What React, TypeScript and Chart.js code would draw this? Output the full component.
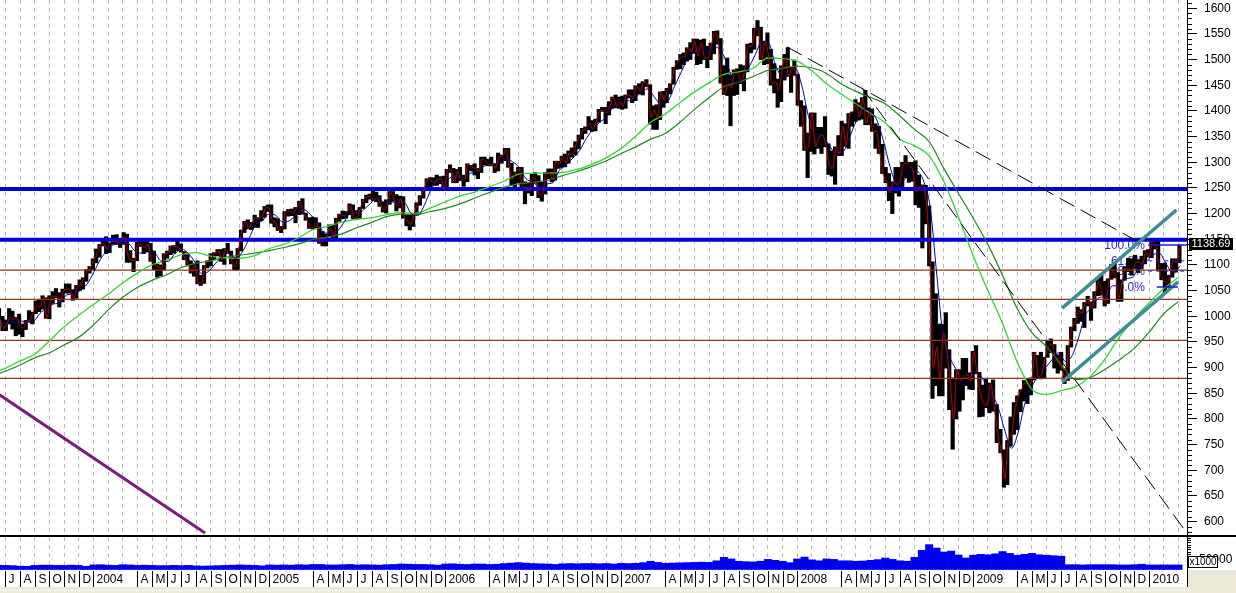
import React, { useEffect, useRef } from "react";
import { Chart, registerables } from "chart.js";

Chart.register(...registerables);

const FONT = '"Liberation Sans", Arial, Helvetica, sans-serif';

// ---------------- axis domain ----------------
const axisStartDate = "2003-06-20";
const axisEndDate = "2010-03-19";
const priceMin = 574;
const priceMax = 1616;
const priceTickStep = 50;
const volumeMax = 143000;
const volumeLabelValue = 50000;
const volumeMinorTicks = [60000, 70000, 80000, 90000, 100000, 110000, 120000, 130000, 140000];
const monthLetters = ["J", "F", "M", "A", "M", "J", "J", "A", "S", "O", "N", "D"];

// ---------------- weekly price data (week ending Friday) ----------------
const firstWeekEnding = "2003-06-20";
const weeklyHigh = [
  1015,1000,993,1015,1010,998,1004,985,992,1011,1008,1030,1033,1040,1036,1040,1048,1054,1046,1053,1063,1063,1052,1060,1071,1075,1091,1097,
  1112,1131,1140,1150,1155,1143,1158,1159,1150,1163,1160,1128,1113,1144,1150,1147,1146,1142,1127,1102,1100,1122,1127,1137,1138,1146,1141,1126,1120,1108,1103,1108,1080,1099,1108,1122,1124,1130,1130,1132,1142,1127,1115,1132,1168,1185,1188,1183,1197,1192,1206,1214,1217,
  1217,1192,1190,1175,1204,1208,1209,1212,1224,1229,1201,1192,1193,1192,1182,1165,1160,1178,1178,1191,1199,1205,1204,1219,1217,1206,1212,1228,1236,1238,1245,1242,1235,1222,1227,1243,1243,1237,1234,1233,1198,1197,1199,1221,1235,1249,1268,1270,1270,1275,1272,1273,
  1286,1295,1288,1286,1290,1275,1297,1294,1297,1288,1310,1310,1306,1310,1297,1318,1314,1327,1327,1298,1281,1290,1290,1262,1260,1277,1280,1274,1262,1280,1287,1287,1302,1302,1312,1316,1322,1328,1340,1353,1366,1369,1389,1381,1384,1403,1407,1407,1418,1427,1431,1427,
  1429,1431,1441,1441,1449,1453,1457,1461,1451,1410,1412,1437,1438,1444,1453,1485,1498,1510,1513,1523,1533,1540,1540,1538,1540,1526,1532,1555,1556,1541,1488,1503,1470,1480,1482,1490,1488,1530,1532,1561,1576,1563,1536,1552,1520,1492,1462,1488,1510,1523,1485,1499,
  1471,1420,1410,1357,1396,1396,1368,1368,1389,1336,1322,1330,1352,1380,1375,1395,1398,1422,1416,1426,1440,1406,1404,1375,1370,1335,1290,1278,1262,1290,1290,1300,1313,1300,1300,1303,1275,1256,1255,1215,1106,1044,985,984,1007,935,880,896,896,918,918,890,
  932,943,891,866,877,870,876,828,780,740,758,804,832,845,857,875,878,880,930,924,930,920,951,956,945,925,930,898,943,979,996,1018,1013,1027,1039,1028,1048,1074,1080,1068,1073,1101,1102,1085,1071,1097,1113,1112,1119,1110,1117,1128,
  1130,1145,1150,1150,1103,1104,1080,1112,1112,1139
];
const weeklyLow = [
  993,972,972,985,975,962,965,960,974,990,985,1005,1009,1014,996,995,1025,1036,1018,1028,1045,1045,1031,1035,1050,1053,1068,1084,
  1090,1104,1115,1137,1122,1124,1140,1140,1134,1140,1105,1105,1087,1108,1136,1122,1125,1107,1091,1076,1079,1090,1113,1120,1123,1128,1125,1110,1100,1084,1078,1063,1060,1064,1094,1098,1110,1118,1107,1101,1122,1102,1090,1090,1127,1163,1170,1169,1173,1173,1186,1193,1204,
  1181,1174,1167,1163,1170,1195,1196,1182,1198,1199,1187,1171,1170,1172,1142,1137,1137,1155,1147,1153,1185,1190,1191,1198,1190,1188,1190,1210,1221,1228,1225,1223,1214,1203,1201,1218,1224,1205,1211,1191,1176,1168,1175,1200,1216,1230,1246,1246,1255,1255,1258,1248,
  1245,1280,1260,1260,1264,1253,1262,1283,1275,1268,1280,1295,1293,1293,1280,1283,1298,1303,1290,1256,1245,1260,1245,1219,1240,1235,1259,1231,1224,1238,1268,1262,1265,1288,1290,1291,1298,1310,1314,1326,1345,1356,1363,1360,1361,1378,1399,1375,1392,1405,1406,1405,
  1403,1405,1425,1416,1420,1433,1431,1447,1374,1364,1364,1383,1407,1416,1433,1452,1481,1482,1490,1497,1500,1512,1490,1492,1500,1484,1500,1511,1530,1454,1432,1430,1371,1430,1432,1453,1439,1476,1513,1520,1546,1500,1490,1492,1450,1435,1407,1418,1460,1467,1436,1469,
  1411,1370,1323,1270,1321,1316,1327,1317,1330,1276,1273,1257,1313,1313,1331,1327,1370,1379,1382,1384,1373,1373,1360,1327,1317,1278,1260,1225,1200,1240,1234,1248,1270,1261,1263,1217,1212,1133,1180,1098,840,865,845,845,899,818,741,800,815,837,865,858,
  857,888,804,805,822,812,815,754,734,667,672,747,770,779,814,835,830,847,876,879,878,880,920,929,899,889,895,869,875,940,972,986,990,978,1020,992,1016,1040,1041,1020,1025,1072,1075,1029,1029,1070,1087,1080,1093,1085,1093,1102,
  1115,1114,1131,1090,1071,1044,1056,1076,1086,1104
];
const weeklyClose = [
  995,976,985,998,993,998,980,977,990,993,1008,1021,1018,1036,997,1029,1039,1039,1028,1050,1053,1050,1035,1058,1061,1074,1089,1095,
  1109,1121,1140,1141,1131,1143,1146,1144,1145,1156,1120,1109,1108,1141,1139,1134,1141,1107,1099,1096,1094,1121,1123,1137,1136,1134,1126,1112,1101,1086,1101,1064,1065,1099,1107,1114,1123,1128,1110,1131,1122,1108,1096,1130,1166,1185,1171,1183,1191,1189,1195,1210,1212,
  1186,1184,1168,1171,1204,1205,1201,1211,1222,1200,1190,1172,1173,1182,1143,1152,1157,1172,1154,1190,1198,1196,1201,1216,1191,1194,1212,1228,1233,1234,1226,1230,1219,1205,1218,1241,1228,1215,1229,1195,1186,1179,1199,1220,1234,1248,1268,1265,1259,1267,1268,1248,
  1285,1287,1261,1283,1265,1267,1297,1290,1288,1282,1307,1302,1295,1296,1289,1311,1311,1325,1291,1267,1280,1288,1253,1251,1245,1270,1265,1236,1240,1278,1280,1266,1302,1296,1311,1299,1319,1314,1336,1349,1362,1368,1377,1364,1380,1401,1400,1396,1409,1427,1410,1418,
  1409,1431,1431,1423,1449,1438,1456,1451,1387,1402,1386,1437,1421,1444,1453,1485,1495,1505,1505,1523,1515,1537,1507,1533,1503,1503,1530,1553,1534,1458,1433,1453,1445,1479,1474,1454,1484,1525,1527,1557,1561,1501,1535,1509,1453,1458,1440,1481,1504,1467,1484,1478,
  1411,1401,1325,1331,1395,1331,1349,1353,1331,1294,1288,1330,1316,1370,1333,1390,1398,1413,1388,1425,1375,1400,1361,1360,1318,1278,1262,1240,1261,1257,1261,1296,1298,1292,1283,1242,1252,1255,1213,1099,899,940,877,968,930,873,800,896,876,879,887,872,
  931,890,850,832,826,869,827,770,735,683,757,769,816,843,857,870,866,878,929,883,887,919,940,946,921,918,896,879,941,979,987,1011,1005,1026,1028,1016,1043,1068,1044,1025,1072,1087,1080,1036,1069,1093,1091,1091,1105,1106,1102,1126,
  1115,1145,1136,1092,1074,1066,1075,1109,1104,1139
];

// slower (blue) moving average, read every second week starting at week #0
const slowMAFirstWeek = 0;
const slowMA = [
  984,987,
  989,991,988,990,1006,1016,1024,1026,1042,1043,
  1051,1063,1086,1111,1128,1140,1142,1142,1128,1123,
  1133,1124,1107,1107,1122,1131,1122,1105,1083,1087,
  1102,1116,1123,1113,1124,1150,1179,1186,1199,1197,
  1184,1186,1198,1208,1199,1183,1164,1161,1165,1182,
  1200,1200,1208,1220,1230,1223,1223,1221,1222,1201,
  1196,1216,1247,1261,1261,1271,1273,1273,1280,1285,
  1294,1296,1299,1306,1301,1290,1268,1261,1253,1258,
  1260,1284,1295,1308,1323,1346,1364,1378,1388,1407,
  1412,1419,1422,1434,1443,1427,1413,1418,1448,1476,
  1503,1517,1523,1517,1524,1516,1486,1454,1461,1483,
  1509,1534,1533,1491,1468,1470,1483,1448,1389,1357,
  1352,1332,1319,1320,1348,1381,1403,1400,1384,1343,
  1292,1260,1263,1281,1282,1265,1212,1081,957,918,
  893,865,882,892,875,853,825,777,743,774,
  831,863,885,899,915,929,912,923,959,1002,
  1017,1036,1039,1059,1060,1073,1076,1097,1106,1119,
  1123,1103,1083,1099
];

// long moving averages, read at each month start from Jun 2003 to Mar 2010
const longMAFirstMonth = "2003-06-01";
const lightGreenMA = [
  888,
  899,913,926,952,979,1002,1023,1043,1065,1084,
  1100,1109,1120,1124,1117,1114,1113,1118,1132,1140,
  1153,1169,1175,1184,1189,1192,1198,1202,1201,1211,
  1223,1234,1242,1252,1263,1277,1279,1279,1280,1286,
  1296,1309,1327,1351,1378,1394,1416,1437,1455,1471,
  1476,1483,1503,1502,1497,1478,1453,1433,1414,1395,
  1377,1345,1332,1312,1262,1193,1118,1050,986,911,
  858,848,855,863,883,917,961,996,1026,1054,
  1076
];
const darkGreenMA = [
  884,
  893,905,919,929,944,959,983,1012,1037,1056,
  1070,1081,1095,1103,1108,1115,1119,1123,1128,1134,
  1141,1150,1154,1161,1173,1183,1194,1199,1198,1204,
  1210,1219,1230,1241,1251,1258,1261,1265,1274,1282,
  1292,1303,1317,1330,1345,1356,1378,1403,1426,1447,
  1456,1467,1479,1483,1487,1484,1473,1453,1438,1426,
  1414,1390,1364,1340,1288,1239,1191,1140,1080,1015,
  968,941,905,877,881,897,916,938,969,1005,
  1029
];

// volume (x1000), read per half month starting mid June 2003
const volumeFirstDate = "2003-06-16";
const volumeHalfMonth = [
  21000,
  20000,19000,17000,16000,20000,21000,21000,20000,20000,21000,20000,16000,
  22000,23000,21000,20000,23000,22000,20000,21000,20000,19000,19000,20000,19000,20000,18000,17000,18000,19000,20000,21000,22000,21000,20000,18000,
  22000,21000,22000,21000,23000,22000,24000,24000,22000,22000,23000,24000,22000,23000,22000,21000,23000,24000,26000,25000,24000,24000,23000,21000,
  26000,27000,25000,24000,26000,26000,24000,25000,28000,30000,32000,30000,28000,27000,26000,24000,27000,28000,27000,28000,28000,27000,28000,26000,
  29000,28000,29000,32000,38000,33000,29000,30000,31000,32000,33000,34000,33000,40000,55000,48000,38000,36000,35000,38000,46000,42000,38000,32000,
  48000,56000,44000,40000,48000,46000,40000,40000,38000,39000,42000,45000,52000,46000,40000,38000,55000,85000,110000,95000,78000,82000,65000,52000,
  64000,68000,66000,70000,80000,72000,64000,68000,72000,66000,64000,62000,60000,23000,23000,22000,23000,23000,23000,23000,22000,22000,23000,25000,
  22000,22000,22000,22000,
  22000
];

// drawn levels and trend lines
const blueLevels = [1248, 1149];
const brownLevels = [1090, 1033, 953, 879];
const purpleTrend: [string, number][] = [["2003-06-19", 847], ["2004-08-20", 578]];
const dashedTrendA: [string, number][] = [["2007-12-10", 1525], ["2009-12-13", 1143]];
const dashedTrendB: [string, number][] = [["2008-05-14", 1445], ["2010-03-17", 580]];
const channelUpper: [string, number][] = [["2009-07-03", 1016], ["2010-02-25", 1207]];
const channelLower: [string, number][] = [["2009-07-03", 872], ["2010-02-28", 1067]];
const fibLabels = ["100.0%", "61.8%", "38.2%", "0.0%"];
const fibValues = [1139, 1108, 1088, 1057];
const fibLineStart = "2009-12-30";
const fibZeroEnd = "2010-02-28";
const fibZeroStart = "2010-01-17";
const fibLabelRight = "2009-12-23";
const lastPrice = 1138.69;
const lastPriceLabel = "1138.69";

// ---------------- helpers ----------------
function monthValue(y: number, m: number, d: number) {
  const dim = new Date(Date.UTC(y, m + 1, 0)).getUTCDate();
  return (y - 2004) * 12 + m + (d - 1) / dim;
}
function isoMonth(s: string, addDays = 0) {
  const [y, m, d] = s.split("-").map(Number);
  const t = new Date(Date.UTC(y, m - 1, d) + addDays * 86400000);
  return monthValue(t.getUTCFullYear(), t.getUTCMonth(), t.getUTCDate());
}
const X_MIN = isoMonth(axisStartDate);
const X_MAX = isoMonth(axisEndDate);

function fixAxis(w?: number, h?: number) {
  return (scale: any) => {
    if (w !== undefined) scale.width = w;
    if (h !== undefined) scale.height = h;
    scale.paddingTop = 0;
    scale.paddingBottom = 0;
    scale.paddingLeft = 0;
    scale.paddingRight = 0;
  };
}

function lineDs(data: any[], color: string, width: number, order: number, extra: any = {}) {
  return {
    type: "line",
    data,
    borderColor: color,
    backgroundColor: color,
    borderWidth: width,
    pointRadius: 0,
    pointHoverRadius: 0,
    fill: false,
    tension: 0,
    order,
    ...extra,
  };
}
const seg = (pts: [string, number][]) => pts.map(([d, v]) => ({ x: isoMonth(d), y: v }));
const hLine = (v: number, from = X_MIN, to = X_MAX) => [{ x: from, y: v }, { x: to, y: v }];

const xGrid = () => ({
  type: "linear",
  min: X_MIN,
  max: X_MAX,
  offset: false,
  position: "bottom",
  ticks: { display: false, stepSize: 1, includeBounds: false },
  grid: { display: true, offset: false, color: "#bcbcbc", lineWidth: 1, drawTicks: false },
  border: { display: false, dash: [4, 4] },
  afterFit: fixAxis(undefined, 0),
});

// ---------------- plugins ----------------
const pricePlugin = {
  id: "priceExtras",
  beforeDatasetsDraw(chart: any) {
    const { ctx } = chart;
    const xs = chart.scales.x;
    const ys = chart.scales.y;
    ctx.save();
    ctx.font = `12px ${FONT}`;
    ctx.textAlign = "right";
    ctx.textBaseline = "middle";
    ctx.fillStyle = "#2a2acc";
    const xr = xs.getPixelForValue(isoMonth(fibLabelRight));
    fibLabels.forEach((lab, i) => {
      ctx.fillText(lab, xr, ys.getPixelForValue(fibValues[i]) + 1);
    });
    ctx.restore();
  },
  afterDraw(chart: any) {
    const { ctx, chartArea: a } = chart;
    const ys = chart.scales.y;
    ctx.save();
    ctx.strokeStyle = "#000";
    ctx.lineWidth = 1;
    for (let v = Math.ceil(priceMin / 10) * 10; v <= priceMax; v += 10) {
      if (v % priceTickStep === 0) continue;
      const y = Math.round(ys.getPixelForValue(v)) + 0.5;
      ctx.beginPath();
      ctx.moveTo(a.right, y);
      ctx.lineTo(a.right + 5, y);
      ctx.stroke();
    }
    const yv = ys.getPixelForValue(lastPrice);
    ctx.fillStyle = "#000";
    ctx.fillRect(a.right + 2, Math.round(yv) - 7, 44, 12);
    ctx.fillStyle = "#fff";
    ctx.font = `11px ${FONT}`;
    ctx.textAlign = "center";
    ctx.textBaseline = "middle";
    ctx.fillText(lastPriceLabel, a.right + 24, Math.round(yv) - 1);
    ctx.restore();
  },
};

const volumePlugin = {
  id: "volumeExtras",
  afterDraw(chart: any) {
    const { ctx, chartArea: a } = chart;
    const xs = chart.scales.x;
    const ys = chart.scales.y;
    const W = chart.width;
    const H = chart.height;
    const rowTop = a.bottom;
    const rowBottom = a.bottom + 17;
    ctx.save();
    ctx.fillStyle = "#000";
    ctx.fillRect(0, 0, W, 2);
    ctx.fillStyle = "#ece9d8";
    ctx.fillRect(a.right + 1, rowTop, W - a.right - 1, H - rowTop);
    ctx.fillRect(0, rowBottom, W, H - rowBottom);
    ctx.fillStyle = "#f6f5ef";
    ctx.fillRect(0, rowBottom + 3, a.right, 1);

    ctx.strokeStyle = "#000";
    ctx.lineWidth = 1;
    const y50 = ys.getPixelForValue(volumeLabelValue);
    ctx.beginPath();
    ctx.moveTo(a.right, Math.round(y50) + 0.5);
    ctx.lineTo(a.right + 8, Math.round(y50) + 0.5);
    ctx.stroke();
    volumeMinorTicks.forEach((v) => {
      const y = Math.round(ys.getPixelForValue(v)) + 0.5;
      ctx.beginPath();
      ctx.moveTo(a.right, y);
      ctx.lineTo(a.right + 4, y);
      ctx.stroke();
    });
    ctx.fillStyle = "#000";
    ctx.font = `12px ${FONT}`;
    ctx.textAlign = "left";
    ctx.textBaseline = "middle";
    ctx.fillText(String(volumeLabelValue), a.right + 12, y50 + 1);
    const bx = a.right + 1.5;
    const by = Math.round(y50) - 1.5;
    ctx.fillStyle = "#fff";
    ctx.fillRect(bx, by, 29, 11);
    ctx.strokeRect(bx, by, 29, 11);
    ctx.fillStyle = "#000";
    ctx.font = `10px ${FONT}`;
    ctx.textAlign = "center";
    ctx.fillText("x1000", bx + 14.5, by + 6);

    ctx.beginPath();
    ctx.moveTo(a.right + 0.5, rowTop);
    ctx.lineTo(a.right + 0.5, rowBottom);
    ctx.stroke();

    ctx.font = `12px ${FONT}`;
    ctx.textAlign = "left";
    ctx.textBaseline = "middle";
    for (let m = Math.ceil(xs.min); m <= Math.floor(xs.max); m++) {
      const moy = ((m % 12) + 12) % 12;
      if (moy === 1 || moy === 2) continue;
      const px = Math.round(xs.getPixelForValue(m)) + 0.5;
      ctx.beginPath();
      ctx.moveTo(px, rowTop + 1);
      ctx.lineTo(px, rowBottom);
      ctx.stroke();
      const label = moy === 0 ? String(2004 + Math.floor(m / 12)) : monthLetters[moy];
      ctx.fillText(label, px + 3, (rowTop + rowBottom) / 2 + 1);
    }
    ctx.restore();
  },
};

// ---------------- configs ----------------
function priceConfig(): any {
  const weekX = (i: number, shift = 0) => isoMonth(firstWeekEnding, i * 7 + shift);
  const bars = weeklyHigh.map((h, i) => ({ x: weekX(i, -2), y: [weeklyLow[i], h] }));
  const closes = weeklyClose.map((c, i) => ({ x: weekX(i), y: c }));
  const blue = slowMA.map((v, k) => ({ x: weekX(slowMAFirstWeek + 2 * k), y: v }));
  const mStart = isoMonth(longMAFirstMonth);
  const lg = lightGreenMA.map((v, k) => ({ x: mStart + k, y: v }));
  const dg = darkGreenMA.map((v, k) => ({ x: mStart + k, y: v }));
  const fibStart = isoMonth(fibLineStart);

  const datasets: any[] = [
    {
      type: "bar",
      data: bars,
      backgroundColor: "#000",
      borderWidth: 0,
      barThickness: 3.5,
      grouped: false,
      order: 100,
    },
    ...blueLevels.map((v) => lineDs(hLine(v), "#0000d8", 4, 40)),
    ...brownLevels.map((v) => lineDs(hLine(v), "#8c3b14", 1.3, 41)),
    lineDs(seg(purpleTrend), "#7d1b7d", 3, 42),
    lineDs(dg, "#1f8a1f", 1.2, 30, { cubicInterpolationMode: "monotone" }),
    lineDs(lg, "#33d633", 1.3, 29, { cubicInterpolationMode: "monotone" }),
    lineDs(blue, "#00009c", 1, 28, { cubicInterpolationMode: "monotone" }),
    lineDs(closes, "#c00000", 1, 27, { cubicInterpolationMode: "monotone" }),
    lineDs(seg(dashedTrendA), "#000", 1, 20, { borderDash: [17, 7] }),
    lineDs(seg(dashedTrendB), "#000", 1, 20, { borderDash: [17, 7] }),
    lineDs(seg(channelUpper), "#3c8d96", 3.5, 15),
    lineDs(seg(channelLower), "#3c8d96", 3.5, 15),
    lineDs(hLine(fibValues[0], fibStart), "#1c1cc8", 1.5, 10),
    lineDs(hLine(fibValues[1], fibStart), "#1c1cc8", 1, 10, { borderDash: [4, 4] }),
    lineDs(hLine(fibValues[2], fibStart), "#1c1cc8", 1, 10, { borderDash: [4, 4] }),
    lineDs(hLine(fibValues[3], isoMonth(fibZeroStart), isoMonth(fibZeroEnd)), "#1c1cc8", 1.5, 10),
  ];

  return {
    type: "line",
    data: { datasets },
    options: {
      responsive: false,
      animation: false,
      devicePixelRatio: 1,
      events: [],
      layout: { padding: 0, autoPadding: false },
      plugins: { legend: { display: false }, tooltip: { enabled: false } },
      scales: {
        x: xGrid(),
        y: {
          type: "linear",
          position: "right",
          min: priceMin,
          max: priceMax,
          beginAtZero: false,
          ticks: {
            stepSize: priceTickStep,
            includeBounds: false,
            color: "#000",
            font: { family: FONT, size: 12 },
            padding: 7,
            callback: (v: any) => String(v),
          },
          grid: { drawOnChartArea: false, drawTicks: true, tickLength: 10, tickColor: "#000", tickWidth: 1 },
          border: { display: true, color: "#000", width: 1 },
          afterFit: fixAxis(49),
        },
      },
    },
    plugins: [pricePlugin],
  };
}

function volumeConfig(): any {
  const v0 = isoMonth(volumeFirstDate);
  const vols = volumeHalfMonth.map((v, k) => ({ x: v0 + k * 0.5, y: v }));
  return {
    type: "line",
    data: {
      datasets: [
        {
          type: "bar",
          data: vols,
          backgroundColor: "#0000ee",
          borderWidth: 0,
          barPercentage: 1,
          categoryPercentage: 1,
          grouped: false,
        },
      ],
    },
    options: {
      responsive: false,
      animation: false,
      devicePixelRatio: 1,
      events: [],
      layout: { padding: { top: 2, bottom: 23, left: 0, right: 0 }, autoPadding: false },
      plugins: { legend: { display: false }, tooltip: { enabled: false } },
      scales: {
        x: xGrid(),
        y: {
          type: "linear",
          position: "right",
          min: 0,
          max: volumeMax,
          ticks: { display: false },
          grid: { drawOnChartArea: false, drawTicks: false },
          border: { display: true, color: "#000", width: 1 },
          afterFit: fixAxis(49),
        },
      },
    },
    plugins: [volumePlugin],
  };
}

export default function App() {
  const priceRef = useRef<HTMLCanvasElement>(null);
  const volRef = useRef<HTMLCanvasElement>(null);
  useEffect(() => {
    const pc = new Chart(priceRef.current as HTMLCanvasElement, priceConfig());
    const vc = new Chart(volRef.current as HTMLCanvasElement, volumeConfig());
    return () => {
      pc.destroy();
      vc.destroy();
    };
  }, []);
  return (
    <div
      style={{
        position: "fixed",
        left: 0,
        top: 0,
        width: 1236,
        height: 593,
        background: "#fff",
        overflow: "hidden",
      }}
    >
      <canvas
        ref={priceRef}
        width={1236}
        height={535}
        style={{ position: "absolute", left: 0, top: 0, width: 1236, height: 535 }}
      />
      <canvas
        ref={volRef}
        width={1236}
        height={58}
        style={{ position: "absolute", left: 0, top: 535, width: 1236, height: 58 }}
      />
    </div>
  );
}
